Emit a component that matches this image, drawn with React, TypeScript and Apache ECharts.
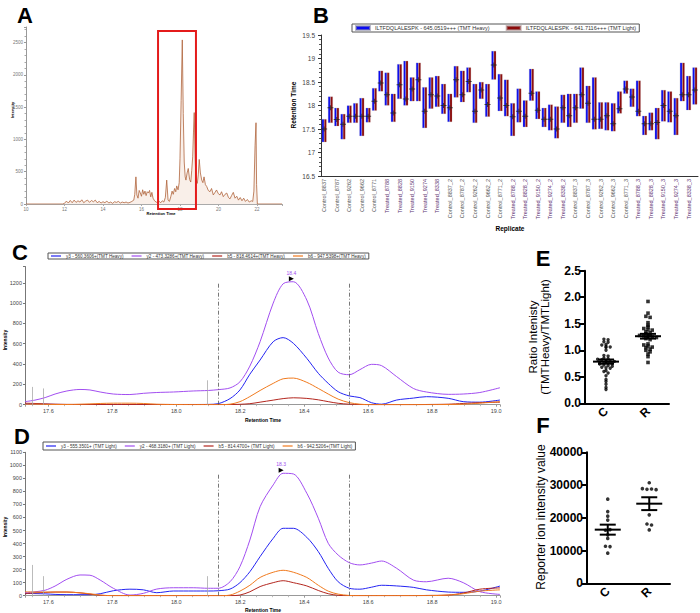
import React, { useEffect, useRef } from "react";
import * as echarts from "echarts";

const FONT = '"Liberation Sans", Arial, Helvetica, sans-serif';

// ---------- Panel A : chromatogram ----------
const A_TRACE: [number, number][] = [
  [10, 0], [11.9, 0], [12.0, 10], [12.1, 45], [12.2, 15], [12.3, 55], [12.4, 20], [12.5, 60], [12.6, 25], [12.7, 50],
  [12.8, 30], [12.9, 65], [13.0, 20], [13.1, 45], [13.2, 60], [13.3, 25], [13.4, 55], [13.5, 35], [13.6, 60], [13.7, 20],
  [13.8, 40], [13.9, 15], [14.0, 35], [14.1, 20], [14.2, 45], [14.3, 15], [14.4, 30], [14.5, 10], [14.6, 35], [14.7, 25],
  [14.8, 40], [14.9, 15], [15.0, 30], [15.1, 20], [15.2, 30], [15.3, 15], [15.4, 25], [15.5, 40], [15.6, 60], [15.65, 150],
  [15.71, 420], [15.76, 140], [15.82, 90], [15.88, 210], [15.94, 170], [16.0, 120], [16.06, 220], [16.12, 150], [16.18, 200],
  [16.24, 130], [16.3, 190], [16.36, 170], [16.42, 210], [16.48, 110], [16.54, 180], [16.6, 90], [16.68, 50], [16.76, 30],
  [16.84, 20], [16.92, 40], [17.0, 20], [17.08, 50], [17.16, 30], [17.24, 100], [17.31, 370], [17.38, 60], [17.45, 40],
  [17.52, 110], [17.59, 200], [17.65, 150], [17.72, 240], [17.78, 190], [17.83, 280], [17.9, 220], [17.96, 330], [18.0, 700],
  [18.06, 1600], [18.12, 2540], [18.17, 1400], [18.22, 650], [18.27, 420], [18.31, 370], [18.37, 480], [18.43, 550],
  [18.5, 380], [18.56, 340], [18.61, 520], [18.66, 730], [18.7, 1100], [18.74, 1415], [18.79, 700], [18.83, 370], [18.9, 320],
  [18.95, 450], [19.0, 690], [19.06, 480], [19.13, 370], [19.19, 330], [19.25, 420], [19.32, 300], [19.39, 270], [19.47, 210],
  [19.56, 190], [19.64, 240], [19.73, 140], [19.82, 180], [19.9, 217], [19.99, 160], [20.08, 140], [20.16, 190], [20.25, 113],
  [20.34, 150], [20.43, 170], [20.52, 100], [20.6, 80], [20.68, 130], [20.77, 180], [20.86, 90], [20.95, 120], [21.04, 60],
  [21.13, 100], [21.22, 50], [21.31, 90], [21.4, 40], [21.5, 70], [21.6, 30], [21.7, 50], [21.78, 40], [21.84, 200],
  [21.9, 900], [21.95, 1258], [21.98, 300], [22.02, 0], [23.3, 0],
];
const A_HIGHLIGHT: [number, number] = [16.86, 18.83];

// ---------- Panel B : retention time per replicate ----------
const B_HEAVY = "ILTFDQLALESPK - 645.0519+++ (TMT Heavy)";
const B_LIGHT = "ILTFDQLALESPK - 641.7116+++ (TMT Light)";
const REPLICATES = [
  "Control_8837", "Control_8787", "Control_9262", "Control_9662", "Control_8771",
  "Treated_8788", "Treated_8828", "Treated_9150", "Treated_9274", "Treated_8338",
  "Control_8837_2", "Control_8787_2", "Control_9262_2", "Control_9662_2", "Control_8771_2",
  "Treated_8788_2", "Treated_8828_2", "Treated_9150_2", "Treated_9274_2", "Treated_8338_2",
  "Control_8837_3", "Control_8787_3", "Control_9262_3", "Control_9662_3", "Control_8771_3",
  "Treated_8788_3", "Treated_8828_3", "Treated_9150_3", "Treated_9274_3", "Treated_8338_3",
];
const RT_LOW = [
  17.22, 17.63, 17.56, 17.28, 17.63, 17.63, 17.35, 17.64, 17.89, 18.30,
  18.00, 17.65, 18.14, 18.00, 18.09, 18.09, 17.52, 17.93, 17.97, 17.82,
  17.65, 18.17, 18.07, 18.28, 17.63, 18.14, 17.76, 18.55, 17.88, 17.77,
  17.35, 17.64, 17.54, 18.10, 17.71, 17.54, 17.47, 17.30, 17.63, 17.54,
  17.63, 17.93, 17.63, 17.49, 17.50, 17.47, 17.45, 17.83, 18.25, 17.97,
  17.77, 17.37, 17.47, 17.28, 17.66, 17.64, 17.37, 18.09, 17.90, 18.02,
];
const RT_HIGH = [
  17.71, 18.19, 17.95, 17.82, 18.00, 18.05, 18.16, 17.95, 18.37, 18.74,
  18.70, 18.25, 18.88, 18.95, 18.60, 18.91, 18.39, 18.60, 18.63, 18.46,
  18.25, 18.84, 18.74, 18.81, 18.46, 18.50, 18.46, 19.16, 18.67, 18.55,
  18.05, 18.36, 18.11, 18.78, 18.30, 17.95, 18.02, 17.98, 18.23, 18.25,
  18.25, 18.81, 18.42, 18.60, 18.07, 18.07, 18.05, 18.30, 18.53, 18.36,
  18.53, 17.78, 17.85, 17.95, 18.33, 18.30, 18.16, 18.91, 18.63, 18.81,
];
const RT_APEX = [
  17.50, 17.95, 17.70, 17.60, 17.77, 17.77, 17.77, 17.77, 18.09, 18.48,
  18.23, 17.84, 18.44, 18.14, 18.35, 18.55, 17.88, 18.23, 18.20, 18.00,
  17.95, 18.55, 18.23, 18.51, 17.88, 18.33, 18.02, 18.86, 18.16, 18.00,
  17.76, 17.88, 17.77, 18.26, 17.90, 17.71, 17.71, 17.50, 17.95, 17.78,
  17.95, 18.23, 18.05, 17.71, 17.71, 17.78, 17.61, 17.93, 18.35, 18.18,
  17.88, 17.61, 17.61, 17.64, 18.00, 17.88, 17.78, 18.23, 18.23, 18.33,
];

// ---------- Panels C & D : fragment-ion chromatograms ----------
const RT_GRID = [
  17.527, 17.558, 17.59, 17.621, 17.658, 17.699, 17.73, 17.762, 17.803, 17.855,
  17.897, 17.939, 17.991, 18.053, 18.1, 18.131, 18.168, 18.199, 18.23, 18.262,
  18.303, 18.334, 18.366, 18.408, 18.444, 18.475, 18.506, 18.541, 18.574, 18.61,
  18.642, 18.689, 18.741, 18.782, 18.85, 18.897, 18.949, 19.012,
];
const C_NAMES = [
  "y3 - 560.3606+(TMT Heavy)", "y2 - 473.3286+(TMT Heavy)",
  "b5 - 818.4614+(TMT Heavy)", "b6 - 947.5398+(TMT Heavy)",
];
const C_Y3 = [10, 8, 5, 3, 2, 2, 2, 2, 2, 2, 2, 2, 2, 2, 3, 10, 60, 145, 300, 440, 620, 660, 604, 456, 309, 210, 128, 86, 70, 20, 5, 46, 65, 79, 63, 30, 25, 46];
const C_Y2 = [30, 45, 70, 105, 135, 150, 145, 125, 105, 100, 112, 120, 125, 135, 140, 148, 165, 225, 380, 620, 1000, 1190, 1210, 1030, 700, 460, 320, 295, 345, 397, 384, 276, 160, 125, 102, 105, 120, 167];
const C_B5 = [15, 12, 8, 5, 3, 2, 2, 2, 2, 2, 2, 2, 2, 2, 2, 2, 2, 4, 10, 25, 45, 60, 68, 62, 48, 30, 14, 5, 2, 0, 0, 0, 0, 2, 5, 12, 20, 25];
const C_B6 = [5, 5, 3, 2, 2, 5, 8, 12, 15, 15, 12, 5, 2, 0, 0, 0, 5, 30, 80, 140, 210, 255, 262, 220, 160, 105, 55, 20, 5, 0, 0, 0, 0, 0, 2, 5, 15, 30];
const D_NAMES = [
  "y3 - 555.3501+ (TMT Light)", "y2 - 468.3180+ (TMT Light)",
  "b5 - 814.4700+ (TMT Light)", "b6 - 942.5206+(TMT Light)",
];
const D_Y3 = [18, 16, 14, 10, 8, 8, 8, 15, 38, 50, 45, 23, 36, 36, 36, 38, 51, 100, 184, 300, 440, 517, 517, 448, 338, 210, 107, 57, 50, 65, 80, 75, 64, 45, 28, 26, 35, 74];
const D_Y2 = [23, 30, 42, 74, 126, 159, 157, 120, 57, 5, 18, 51, 61, 61, 57, 57, 107, 223, 427, 683, 850, 939, 934, 786, 594, 402, 312, 253, 236, 250, 266, 210, 120, 107, 134, 100, 31, 10];
const D_B5 = [15, 22, 25, 28, 28, 22, 12, 3, 0, 0, 0, 0, 0, 0, 0, 0, 0, 5, 30, 70, 100, 115, 100, 75, 40, 15, 3, 0, 0, 0, 0, 0, 0, 2, 5, 20, 50, 60];
const D_B6 = [30, 28, 28, 28, 28, 22, 15, 5, 0, 0, 0, 0, 0, 0, 0, 0, 5, 35, 80, 140, 180, 195, 180, 140, 80, 35, 12, 2, 0, 0, 0, 0, 0, 0, 5, 15, 35, 45];
const PEAK_BOUNDS = [18.131, 18.541];
const C_APEX: [number, number] = [18.366, 1210];
const D_APEX: [number, number] = [18.334, 939];
const C_MARKS: [number, number][] = [[17.55, 175], [17.584, 160], [18.098, 240]];
const D_MARKS: [number, number][] = [[17.55, 236], [17.584, 150], [18.098, 150]];

// ---------- Panels E & F : group scatter ----------
const GROUPS = ["C", "R"];
const E_CONTROL = [
  1.21, 1.2, 1.16, 1.15, 1.11, 1.1, 1.07, 1.06, 1.05, 1.0,
  0.6, 0.9, 0.89, 0.85, 0.84, 0.83, 0.82, 0.8, 0.79, 0.79, 0.78, 0.77, 0.76, 0.75, 0.74, 0.72, 0.71, 0.7, 0.68, 0.67, 0.66,
  0.62, 0.57, 0.52, 0.45, 0.41, 0.36, 0.3, 0.26,
];
const E_TREATED = [
  1.92, 1.7, 1.64, 1.62, 1.52, 1.47, 1.44, 1.41, 1.39, 1.38, 1.35, 1.33, 1.31, 1.29, 1.28, 1.27,
  1.26, 1.25, 1.24, 1.22, 1.2, 1.12, 1.1, 1.08, 1.06, 1.05, 1.02, 1.0, 0.97, 0.93, 0.88, 0.77,
];
const F_CONTROL = [25700, 21900, 20500, 19300, 16200, 16400, 14800, 13700, 11300, 11200, 9200];
const F_TREATED = [30700, 28900, 28700, 28800, 28600, 20900, 18100, 17800, 16300];

function swarm(values: number[], center: number, bin: number, step: number): number[][] {
  const groups = new Map<number, number[]>();
  values.forEach((v) => {
    const k = Math.round(v / bin);
    if (!groups.has(k)) groups.set(k, []);
    groups.get(k)!.push(v);
  });
  const out: number[][] = [];
  groups.forEach((arr) => arr.forEach((v, i) => out.push([center + (i - (arr.length - 1) / 2) * step, v])));
  return out;
}
function meanSem(values: number[]): [number, number] {
  const n = values.length;
  const m = values.reduce((a, b) => a + b, 0) / n;
  const sd = Math.sqrt(values.reduce((a, b) => a + (b - m) * (b - m), 0) / (n - 1));
  return [m, sd / Math.sqrt(n)];
}

const BLUE = "#2424f2";
const PURPLE = "#a24ef0";
const RED = "#b3261e";
const ORANGE = "#f07a1e";

function buildOption(): any {
  const bSlots = REPLICATES.flatMap((r) => [r, ""]);
  const ranges = RT_HIGH.map((h, i) => +(h - RT_LOW[i]).toFixed(3));
  const meanSemRender = (params: any, api: any) => {
    const x = api.value(0), m = api.value(1), s = api.value(2);
    const c = api.coord([x, m]);
    const hi = api.coord([x, m + s]);
    const lo = api.coord([x, m - s]);
    const st = { stroke: "#000", lineWidth: 2 };
    return {
      type: "group",
      children: [
        { type: "line", shape: { x1: c[0] - 13, y1: c[1], x2: c[0] + 13, y2: c[1] }, style: st },
        { type: "line", shape: { x1: c[0], y1: hi[1], x2: c[0], y2: lo[1] }, style: st },
        { type: "line", shape: { x1: c[0] - 8, y1: hi[1], x2: c[0] + 8, y2: hi[1] }, style: st },
        { type: "line", shape: { x1: c[0] - 8, y1: lo[1], x2: c[0] + 8, y2: lo[1] }, style: st },
      ],
    };
  };
  const eC = meanSem(E_CONTROL), eR = meanSem(E_TREATED);
  const fC = meanSem(F_CONTROL), fR = meanSem(F_TREATED);

  const lineS = (name: string, color: string, idx: number, vals: number[], extra: any = {}) => ({
    type: "line", name, xAxisIndex: idx, yAxisIndex: idx,
    data: RT_GRID.map((t, i) => [t, vals[i]]),
    showSymbol: false, symbol: "none", smooth: 0.3,
    lineStyle: { color, width: 1 }, itemStyle: { color }, z: 3, ...extra,
  });
  const peakLines = (apexInt: number) => ({
    silent: true, symbol: ["none", "none"], label: { show: false },
    lineStyle: { color: "#555", type: [4, 2, 1, 2], width: 0.8 },
    data: PEAK_BOUNDS.map((b) => [{ coord: [b, 0] }, { coord: [b, apexInt] }]),
  });
  const smallLines = (marks: [number, number][]) => ({
    silent: true, symbol: ["none", "none"], label: { show: false },
    lineStyle: { color: "#aaa", type: "solid", width: 0.8 },
    data: marks.map((m) => [{ coord: [m[0], 0] }, { coord: [m[0], m[1]] }]),
  });
  const apexMark = (apex: [number, number], text: string) => ({
    silent: true, symbol: "triangle", symbolSize: [5, 5], symbolRotate: -90, symbolOffset: [-2, -3],
    itemStyle: { color: "#000" },
    label: { show: true, position: "top", formatter: text, color: PURPLE, fontSize: 5, distance: 1 },
    data: [{ coord: apex }],
  });

  const cdX = (grid: number) => ({
    type: "value", gridIndex: grid, min: 17.527, max: 19.012, splitNumber: 7,
    axisLine: { lineStyle: { color: "#999", width: 1 } },
    axisTick: { length: 2, lineStyle: { color: "#999" } },
    minorTick: { show: true, splitNumber: 4, length: 1.5, lineStyle: { color: "#bbb" } },
    axisLabel: {
      fontSize: 5.5, color: "#444", margin: 3, showMinLabel: false, showMaxLabel: false,
      formatter: (v: number) => (Math.abs(v * 5 - Math.round(v * 5)) < 1e-6 ? v.toFixed(1) : ""),
    },
    splitLine: { show: false },
  });
  const cdY = (grid: number, max: number, interval: number) => ({
    type: "value", gridIndex: grid, min: 0, max, interval,
    axisLine: { show: true, lineStyle: { color: "#777" } },
    axisTick: { show: true, length: 2, lineStyle: { color: "#777" } },
    axisLabel: { fontSize: 5.5, color: "#444", margin: 3, formatter: (v: number) => (v % interval === 0 ? String(v) : "") },
    splitLine: { show: false },
  });
  const efCat = (grid: number) => ({
    type: "category", gridIndex: grid, data: GROUPS, boundaryGap: true,
    axisLine: { lineStyle: { color: "#000", width: 2 } },
    axisTick: { alignWithLabel: true, length: 5, lineStyle: { color: "#000", width: 2 } },
    axisLabel: { fontSize: 12, fontWeight: "bold", color: "#000", rotate: 45, margin: 6 },
  });
  const efY = (grid: number, max: number, interval: number, fmt: (v: number) => string) => ({
    type: "value", gridIndex: grid, min: 0, max, interval,
    axisLine: { show: true, lineStyle: { color: "#000", width: 2 } },
    axisTick: { show: true, length: 5, lineStyle: { color: "#000", width: 2 } },
    axisLabel: { fontSize: 12, fontWeight: "bold", color: "#000", margin: 4, formatter: fmt },
    splitLine: { show: false },
  });
  const legendBase = {
    orient: "horizontal", icon: "rect", selectedMode: false,
    borderColor: "#555", borderWidth: 1, backgroundColor: "#fff",
  };

  return {
    animation: false,
    backgroundColor: "#fff",
    textStyle: { fontFamily: FONT },
    grid: [
      { left: 26, top: 27, width: 256, height: 177 },
      { left: 321, top: 35, width: 377, height: 141 },
      { left: 25, top: 266.5, width: 475, height: 138.2 },
      { left: 25, top: 452.3, width: 475, height: 143.4 },
      { left: 585, top: 270.7, width: 84, height: 132.6 },
      { left: 587, top: 452.3, width: 83, height: 131 },
    ],
    legend: [
      {
        ...legendBase, data: [B_HEAVY, B_LIGHT], left: 352, top: 24, itemWidth: 14, itemHeight: 4, itemGap: 16,
        padding: [1, 3], textStyle: { fontSize: 5.5, color: "#333", fontFamily: FONT },
      },
      {
        ...legendBase, data: C_NAMES, left: 48, top: 253, itemWidth: 10, itemHeight: 1.2, itemGap: 8,
        padding: [0.5, 3], textStyle: { fontSize: 4.6, color: "#333", fontFamily: FONT },
      },
      {
        ...legendBase, data: D_NAMES, left: 43, top: 442, itemWidth: 10, itemHeight: 1.2, itemGap: 8,
        padding: [1.5, 3], textStyle: { fontSize: 4.6, color: "#333", fontFamily: FONT },
      },
    ],
    xAxis: [
      {
        type: "value", gridIndex: 0, min: 10, max: 23.3, interval: 2,
        axisLine: { lineStyle: { color: "#aaa" } }, axisTick: { length: 2, lineStyle: { color: "#aaa" } },
        axisLabel: { fontSize: 4.5, color: "#777", margin: 3, formatter: (v: number) => (v % 2 === 0 ? String(v) : "") },
        splitLine: { show: false },
      },
      {
        type: "category", gridIndex: 1, data: bSlots, boundaryGap: true,
        axisLine: { lineStyle: { color: "#333" } },
        axisTick: { interval: 0, length: 3, lineStyle: { color: "#333" } },
        axisLabel: {
          interval: 0, rotate: 90, fontSize: 5.5, margin: 3,
          color: (v: string) => (v && v.startsWith("Treated") ? "#5e3470" : "#555"),
        },
      },
      cdX(2),
      cdX(3),
      efCat(4),
      { type: "value", gridIndex: 4, min: 0, max: 2, show: false },
      efCat(5),
      { type: "value", gridIndex: 5, min: 0, max: 2, show: false },
    ],
    yAxis: [
      {
        type: "value", gridIndex: 0, min: 0, max: 2740, interval: 500,
        axisLine: { show: true, lineStyle: { color: "#999" } },
        axisTick: { show: true, length: 2, lineStyle: { color: "#999" } },
        minorTick: { show: true, splitNumber: 5, length: 1.5, lineStyle: { color: "#aaa" } },
        axisLabel: { fontSize: 4.5, color: "#777", margin: 3, formatter: (v: number) => (v % 500 === 0 ? String(v) : "") },
        splitLine: { show: false },
      },
      {
        type: "value", gridIndex: 1, min: 16.5, max: 19.5, interval: 0.5,
        axisLine: { show: true, lineStyle: { color: "#333" } },
        axisTick: { show: true, length: 3, lineStyle: { color: "#333" } },
        minorTick: { show: true, splitNumber: 5, length: 2, lineStyle: { color: "#555" } },
        axisLabel: { fontSize: 6.5, color: "#444", margin: 6 },
        splitLine: { show: false },
      },
      cdY(2, 1360, 200),
      cdY(3, 1100, 100),
      efY(4, 2.5, 0.5, (v) => v.toFixed(1)),
      efY(5, 40000, 10000, (v) => String(v)),
    ],
    series: [
      // A
      {
        type: "line", xAxisIndex: 0, yAxisIndex: 0, data: A_TRACE, showSymbol: false, symbol: "none",
        lineStyle: { color: "#b0643c", width: 0.8 }, areaStyle: { color: "#f6e8df" }, silent: true,
      },
      // B
      {
        type: "bar", name: "heavy-base", stack: "h", xAxisIndex: 1, yAxisIndex: 1, data: RT_LOW,
        itemStyle: { color: "transparent" }, barWidth: 2.4, barGap: "0%", silent: true,
      },
      {
        type: "bar", name: B_HEAVY, stack: "h", xAxisIndex: 1, yAxisIndex: 1, data: ranges,
        itemStyle: { color: "#0a0af2", borderColor: "rgba(140,140,170,0.6)", borderWidth: 0.4 }, barWidth: 2.4, barGap: "0%",
      },
      {
        type: "bar", name: "light-base", stack: "l", xAxisIndex: 1, yAxisIndex: 1, data: RT_LOW,
        itemStyle: { color: "transparent" }, barWidth: 2.4, barGap: "0%", silent: true,
      },
      {
        type: "bar", name: B_LIGHT, stack: "l", xAxisIndex: 1, yAxisIndex: 1, data: ranges,
        itemStyle: { color: "#8c0a0a", borderColor: "rgba(170,140,140,0.6)", borderWidth: 0.4 }, barWidth: 2.4, barGap: "0%",
      },
      {
        type: "scatter", xAxisIndex: 1, yAxisIndex: 1, data: RT_APEX, z: 5, silent: true,
        symbol: "path://M0 2H6V3H0Z M2.5 0H3.5V5H2.5Z", symbolSize: [6, 5], itemStyle: { color: "#222" },
      },
      // C
      lineS(C_NAMES[0], BLUE, 2, C_Y3, { markLine: smallLines(C_MARKS) }),
      lineS(C_NAMES[1], PURPLE, 2, C_Y2, { markLine: peakLines(C_APEX[1]), markPoint: apexMark(C_APEX, "18.4") }),
      lineS(C_NAMES[2], RED, 2, C_B5),
      lineS(C_NAMES[3], ORANGE, 2, C_B6),
      // D
      lineS(D_NAMES[0], BLUE, 3, D_Y3, { markLine: smallLines(D_MARKS) }),
      lineS(D_NAMES[1], PURPLE, 3, D_Y2, { markLine: peakLines(D_APEX[1]), markPoint: apexMark(D_APEX, "18.3") }),
      lineS(D_NAMES[2], RED, 3, D_B5),
      lineS(D_NAMES[3], ORANGE, 3, D_B6),
      // E
      {
        type: "scatter", xAxisIndex: 5, yAxisIndex: 4, data: swarm(E_CONTROL, 0.5, 0.045, 0.1),
        symbol: "circle", symbolSize: 3.4, itemStyle: { color: "#000" }, silent: true,
      },
      {
        type: "scatter", xAxisIndex: 5, yAxisIndex: 4, data: swarm(E_TREATED, 1.5, 0.045, 0.1),
        symbol: "rect", symbolSize: 3.6, itemStyle: { color: "#000" }, silent: true,
      },
      {
        type: "custom", xAxisIndex: 5, yAxisIndex: 4, renderItem: meanSemRender, silent: true, z: 6,
        data: [[0.5, eC[0], eC[1]], [1.5, eR[0], eR[1]]], encode: { x: 0, y: 1 },
      },
      // F
      {
        type: "scatter", xAxisIndex: 7, yAxisIndex: 5, data: swarm(F_CONTROL, 0.5, 1000, 0.11),
        symbol: "circle", symbolSize: 3.6, itemStyle: { color: "#000" }, silent: true,
      },
      {
        type: "scatter", xAxisIndex: 7, yAxisIndex: 5, data: swarm(F_TREATED, 1.5, 1000, 0.11),
        symbol: "circle", symbolSize: 3.6, itemStyle: { color: "#000" }, silent: true,
      },
      {
        type: "custom", xAxisIndex: 7, yAxisIndex: 5, renderItem: meanSemRender, silent: true, z: 6,
        data: [[0.5, fC[0], fC[1]], [1.5, fR[0], fR[1]]], encode: { x: 0, y: 1 },
      },
    ],
  };
}

function txt(text: string, x: number, y: number, size: number, o: any = {}) {
  return {
    type: "text", x, y, rotation: o.rot || 0, z: 50, silent: true,
    style: {
      text, fontSize: size, fontWeight: o.bold ? "bold" : "normal", fontFamily: FONT,
      fill: o.color || "#000", align: o.align || "center", verticalAlign: "middle", lineHeight: o.lh,
    },
  };
}

export default function App() {
  const ref = useRef<HTMLDivElement>(null);
  useEffect(() => {
    if (!ref.current) return;
    const chart = echarts.init(ref.current, undefined, { renderer: "svg" });
    chart.setOption(buildOption());
    const p1 = chart.convertToPixel({ gridIndex: 0 } as any, [A_HIGHLIGHT[0], 2680]) as number[];
    const p2 = chart.convertToPixel({ gridIndex: 0 } as any, [A_HIGHLIGHT[1], 0]) as number[];
    const R = Math.PI / 2;
    chart.setOption({
      graphic: [
        txt("A", 25, 15, 22, { bold: true }),
        txt("B", 321, 15, 22, { bold: true }),
        txt("C", 20, 252, 22, { bold: true }),
        txt("D", 22, 436, 22, { bold: true }),
        txt("E", 543, 258, 22, { bold: true }),
        txt("F", 543, 425, 22, { bold: true }),
        txt("Intensity", 12, 110, 4, { bold: true, rot: R }),
        txt("Retention Time", 161, 213, 4, { bold: true }),
        txt("Retention Time", 293, 105, 6.5, { bold: true, rot: R }),
        txt("Replicate", 510, 228, 6.5, { bold: true }),
        txt("Intensity", 5, 340, 5, { bold: true, rot: R }),
        txt("Retention Time", 263, 420, 5, { bold: true }),
        txt("Intensity", 5, 527, 5, { bold: true, rot: R }),
        txt("Retention Time", 263, 610, 5, { bold: true }),
        txt("Ratio Intenisty\n(TMTHeavy/TMTLight)", 539, 337, 11.5, { rot: R, lh: 12 }),
        txt("Reporter ion intensity value", 541, 517, 12, { rot: R }),
        {
          type: "rect", z: 60, silent: true,
          shape: { x: p1[0], y: p1[1], width: p2[0] - p1[0], height: p2[1] + 5 - p1[1] },
          style: { fill: "none", stroke: "#e41b1b", lineWidth: 2 },
        },
      ],
    });
    return () => chart.dispose();
  }, []);
  return (
    <div
      ref={ref}
      style={{ position: "fixed", left: 0, top: 0, width: 700, height: 613, background: "#fff" }}
    />
  );
}
